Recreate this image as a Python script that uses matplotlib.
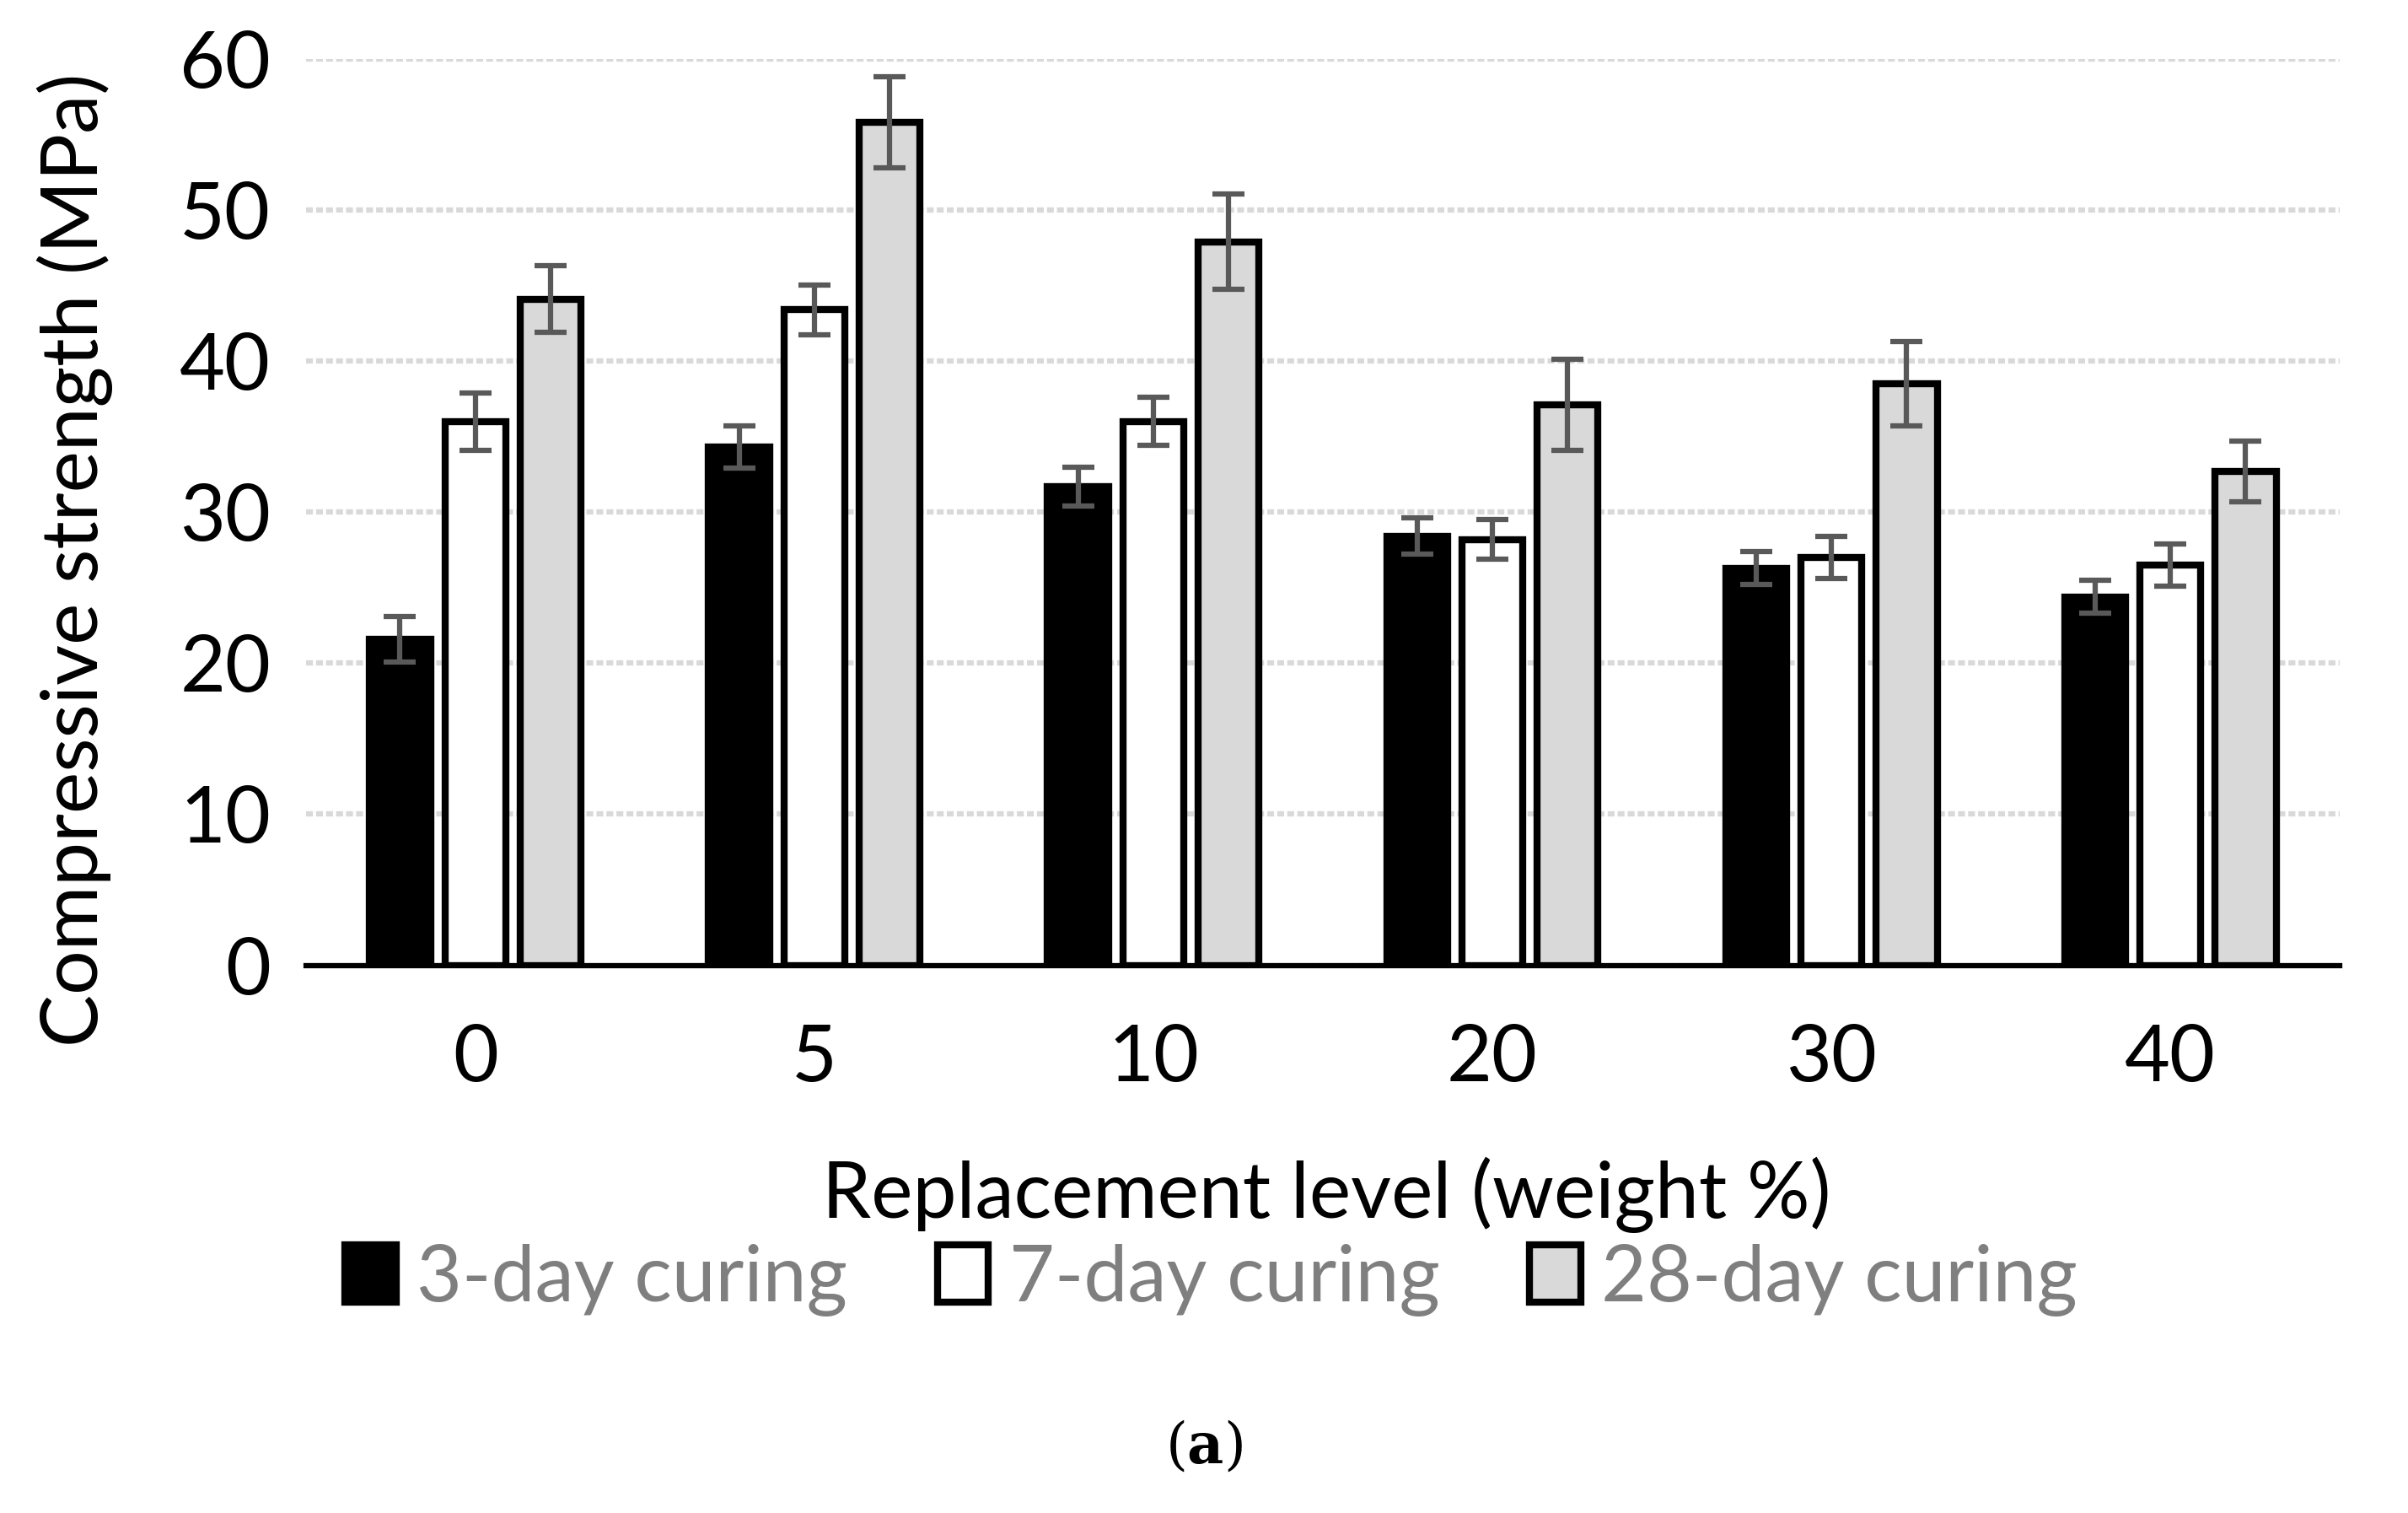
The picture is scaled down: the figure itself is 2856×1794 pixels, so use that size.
import matplotlib.pyplot as plt
import numpy as np
from matplotlib.patches import Patch

# Data
levels = ['0', '5', '10', '20', '30', '40']
series_names = ['3-day curing', '7-day curing', '28-day curing']
day3 = [21.6, 34.3, 31.7, 28.4, 26.3, 24.4]
day7 = [36.0, 43.4, 36.0, 28.2, 27.0, 26.5]
day28 = [44.1, 55.8, 47.9, 37.1, 38.5, 32.7]
err3 = [1.5, 1.4, 1.3, 1.2, 1.1, 1.1]
err7 = [1.9, 1.65, 1.6, 1.3, 1.4, 1.4]
err28 = [2.2, 3.0, 3.15, 3.0, 2.8, 2.0]

plt.rcParams['font.family'] = ['Lato', 'DejaVu Sans']

fig = plt.figure(figsize=(28.56, 17.94), dpi=100)
ax = fig.add_axes([0.127, 0.362, 0.8447, 0.599])

x = np.arange(len(levels))
width = 0.18
offset = 0.222
colors = ['black', 'white', '#d9d9d9']
values = [day3, day7, day28]
errors = [err3, err7, err28]

for i in range(3):
    pos = x + (i - 1) * offset
    ax.bar(pos, values[i], width, color=colors[i], edgecolor='black', linewidth=6, zorder=3)
    ax.errorbar(pos, values[i], yerr=errors[i], fmt='none', ecolor='#595959',
                elinewidth=4.5, capsize=14, capthick=4.5, zorder=4)

ax.set_xlim(-0.5, len(levels) - 0.5)
ax.set_ylim(0, 60)
ax.set_yticks(range(0, 61, 10))
ax.set_xticks(x)
ax.set_xticklabels(levels)
ax.tick_params(axis='both', length=0, labelsize=67)
ax.tick_params(axis='x', pad=50)
ax.tick_params(axis='y', pad=30)
ax.yaxis.grid(True, color='#d9d9d9', linestyle=(0, (1.3, 0.6)), linewidth=4.5, zorder=0)
for s in ['top', 'right', 'left']:
    ax.spines[s].set_visible(False)
ax.spines['bottom'].set_linewidth(4.5)
ax.spines['bottom'].set_zorder(5)

fig.text(0.031, 0.630, 'Compressive strength (MPa)', rotation=90, fontsize=67,
         ha='center', va='center')
fig.text(0.551, 0.210, 'Replacement level (weight %)', fontsize=67,
         ha='center', va='center')

handles = [Patch(facecolor=c, edgecolor='black', linewidth=6) for c in colors]
leg = fig.legend(handles, series_names, loc='center', bbox_to_anchor=(0.503, 0.154),
                 ncol=3, frameon=False, fontsize=67, handlelength=0.65, handleheight=0.75,
                 handletextpad=0.26, columnspacing=1.15)
for t in leg.get_texts():
    t.set_color('#7f7f7f')

plt.rcParams['mathtext.fontset'] = 'dejavuserif'
fig.text(0.5, 0.043, r'($\mathbf{a}$)', fontsize=48, family='DejaVu Serif',
         ha='center', va='center')

fig.savefig('out.png', dpi=100)
